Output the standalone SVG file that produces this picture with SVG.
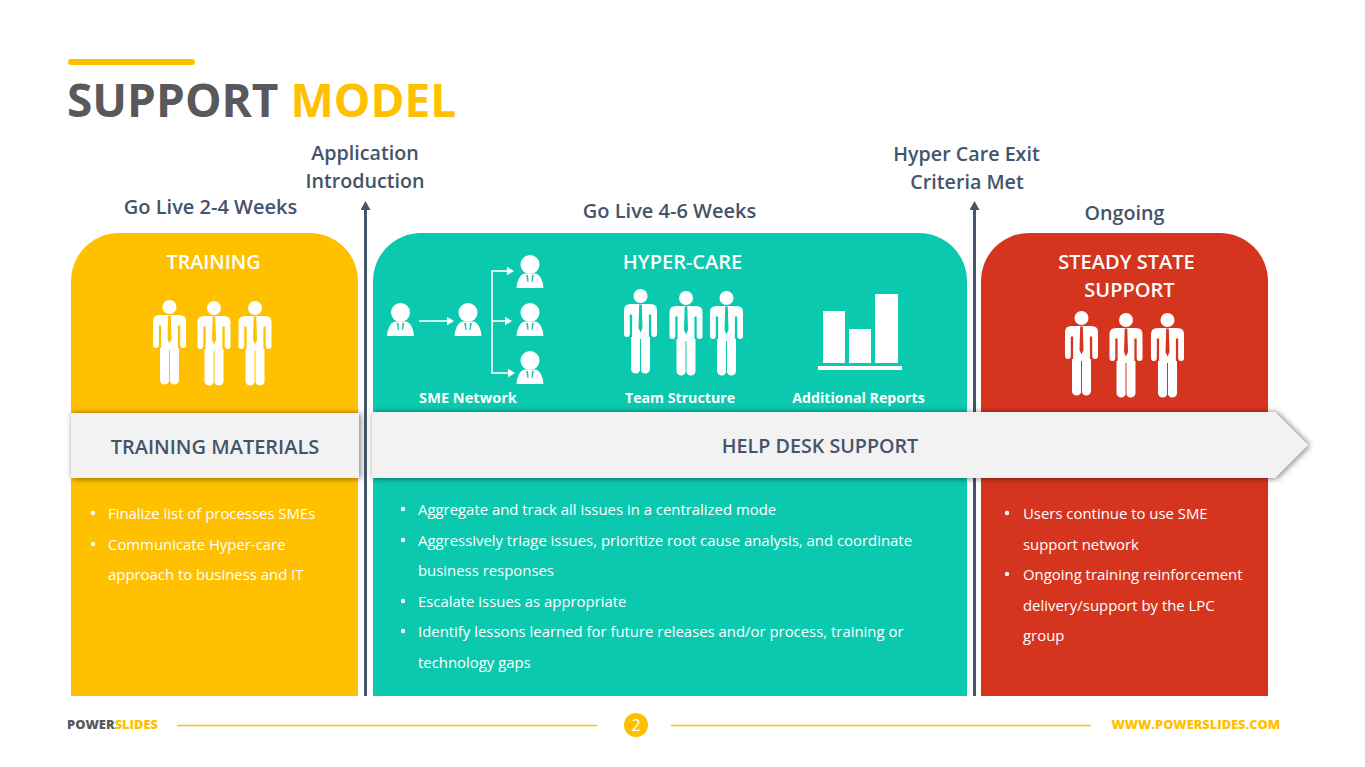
<svg xmlns="http://www.w3.org/2000/svg" width="1365" height="767" viewBox="0 0 1365 767">
<style>
text{font-family:"Open Sans","Liberation Sans",sans-serif}
.h{font-size:19.7px;font-weight:600;fill:#44546a;text-anchor:middle}
.h2{font-size:20px}
.t{font-size:20px;font-weight:600;fill:#fff;text-anchor:middle}
.l{font-size:14.2px;font-weight:700;fill:#fff;text-anchor:middle}
.b{font-size:14.9px;fill:#fff}
.bn{font-size:19.7px;font-weight:600;fill:#44546a;text-anchor:middle}
.v{stroke:#44546a;stroke-width:3;fill:none}
.w{stroke:#fff;stroke-width:1.6;fill:none}
.fy{fill:#ffc000}
.d{fill:#fff}
</style>
<defs>
<filter id="sh" x="-5%" y="-30%" width="110%" height="160%"><feDropShadow dx="1.5" dy="0.5" stdDeviation="3" flood-color="#000" flood-opacity=".55"/></filter>
<marker id="ah" markerWidth="8" markerHeight="10" refX="0.500" refY="4.500" orient="auto" markerUnits="userSpaceOnUse"><path d="M0,0L7.500,4.500L0,9Z" fill="#fff"/></marker>
<marker id="ad" markerWidth="11" markerHeight="11" refX="1" refY="5" orient="auto" markerUnits="userSpaceOnUse"><path d="M0,0L9,5L0,10Z" fill="#44546a"/></marker>
<g id="man" fill="#fff">
<circle cx="0" cy="7" r="7"/>
<path fill-rule="evenodd" d="M-10,15H10Q16.500,15 16.500,21V45A2.900,2.900 0 0 1 10.700,45V25.500H8.400V48H9.500V80.500A4.700,4.700 0 0 1 .5,81.500V50H-.5V81.500A4.700,4.700 0 0 1 -9.500,80.500V48H-8.400V25.500H-10.700V45A2.900,2.900 0 0 1 -16.500,45V21Q-16.500,15 -10,15ZM-1.300,15.500L-2,39L0,43.500L2,39L1.300,15.500Z"/>
</g>
<g id="bust" fill="#fff">
<circle cx="0" cy="9.500" r="9.500"/>
<path fill-rule="evenodd" d="M-6,18.500H6Q12.500,21 13.500,33H-13.500Q-12.500,21 -6,18.500ZM-3.800,20L-2,20L-1.500,27L-2.600,27ZM3.800,20L2,20L1.500,27L2.600,27Z"/>
</g>
</defs>
<rect width="1365" height="767" fill="#fff"/>
<g id="title">
<rect x="68" y="59" width="127" height="6" rx="3" class="fy"/>
<text x="67" y="117" font-size="46" font-weight="700" fill="#595959">SUPPORT <tspan fill="#ffc000">MODEL</tspan></text>
</g>
<g id="headings">
<text class="h h2" x="210.500" y="214">Go Live 2-4 Weeks</text>
<text class="h" x="365" y="160">Application</text>
<text class="h" x="365" y="188">Introduction</text>
<text class="h h2" x="669.500" y="218">Go Live 4-6 Weeks</text>
<text class="h" x="966.500" y="161">Hyper Care Exit</text>
<text class="h" x="967" y="189">Criteria Met</text>
<text class="h" x="1124.500" y="220">Ongoing</text>
</g>
<g id="training">
<path d="M71,696V281A48,48 0 0 1 119,233H310A48,48 0 0 1 358,281V696Z" fill="#ffc000"/>
<text class="t" x="213.500" y="269" style="font-size:19.7px">TRAINING</text>
<use href="#man" x="169.500" y="300"/><use href="#man" x="214" y="301"/><use href="#man" x="255" y="301"/>
<circle class="d" cx="93" cy="513" r="2.200"/><circle class="d" cx="93" cy="544" r="2.200"/>
<text class="b" x="108" y="519">Finalize list of processes SMEs</text>
<text class="b" x="108" y="550">Communicate Hyper-care</text>
<text class="b" x="108" y="580">approach to business and IT</text>
</g>
<g id="hypercare">
<path d="M373,696V281A48,48 0 0 1 421,233H919A48,48 0 0 1 967,281V696Z" fill="#0bc9af"/>
<text class="t" x="682.500" y="269">HYPER-CARE</text>
<use href="#bust" x="400.500" y="303"/><use href="#bust" x="468" y="303"/>
<use href="#bust" x="530" y="255"/><use href="#bust" x="530" y="303"/><use href="#bust" x="530" y="351"/>
<use href="#man" x="640.500" y="289"/><use href="#man" x="686" y="291"/><use href="#man" x="726.500" y="291"/>
<rect x="823" y="311" width="22" height="52" fill="#fff"/><rect x="849" y="329" width="22" height="34" fill="#fff"/><rect x="875" y="294" width="23" height="69" fill="#fff"/><rect x="818" y="366" width="84" height="4" fill="#fff"/>
<text class="l" x="468" y="403" style="font-size:14.6px">SME Network</text>
<text class="l" x="680" y="403">Team Structure</text>
<text class="l" x="858.500" y="403">Additional Reports</text>
<circle class="d" cx="403" cy="509" r="2.200"/><circle class="d" cx="403" cy="540" r="2.200"/><circle class="d" cx="403" cy="601" r="2.200"/><circle class="d" cx="403" cy="631" r="2.200"/>
<text class="b" x="418" y="515">Aggregate and track all issues in a centralized mode</text>
<text class="b" x="418" y="546">Aggressively triage issues, prioritize root cause analysis, and coordinate</text>
<text class="b" x="418" y="576">business responses</text>
<text class="b" x="418" y="607">Escalate issues as appropriate</text>
<text class="b" x="418" y="637">Identify lessons learned for future releases and/or process, training or</text>
<text class="b" x="418" y="668">technology gaps</text>
</g>
<g id="steady">
<path d="M981,696V281A48,48 0 0 1 1029,233H1220A48,48 0 0 1 1268,281V696Z" fill="#d5351e"/>
<text class="t" x="1126.500" y="269">STEADY STATE</text>
<text class="t" x="1129.500" y="297">SUPPORT</text>
<use href="#man" x="1081.500" y="311"/><use href="#man" x="1126" y="313"/><use href="#man" x="1167.500" y="313"/>
<circle class="d" cx="1007" cy="513" r="2.200"/><circle class="d" cx="1007" cy="574" r="2.200"/>
<text class="b" x="1023" y="519">Users continue to use SME</text>
<text class="b" x="1023" y="550">support network</text>
<text class="b" x="1023" y="580">Ongoing training reinforcement</text>
<text class="b" x="1023" y="611">delivery/support by the LPC</text>
<text class="b" x="1023" y="641">group</text>
</g>
<g id="connectors">
<path class="v" d="M365.500,696V209" marker-end="url(#ad)"/>
<path class="v" d="M974.500,696V209" marker-end="url(#ad)"/>
<path class="w" d="M419,321H447" marker-end="url(#ah)"/>
<path class="w" d="M492,271V373H508" marker-end="url(#ah)"/>
<path class="w" d="M491.200,271H507" marker-end="url(#ah)"/>
<path class="w" d="M492,321H505" marker-end="url(#ah)"/>
</g>
<g id="training-materials">
<rect x="71" y="413" width="288" height="65" fill="#f2f2f2" filter="url(#sh)"/>
<text class="bn" x="215" y="454" style="font-size:20px">TRAINING MATERIALS</text>
</g>
<g id="help-desk">
<path d="M372,412H1275L1308,445L1275,478H372Z" fill="#f2f2f2" filter="url(#sh)"/>
<text class="bn" x="820" y="453">HELP DESK SUPPORT</text>
</g>
<g id="footer">
<text x="67" y="729" font-size="12.900" font-weight="800" fill="#595959">POWER<tspan fill="#ffc000">SLIDES</tspan></text>
<rect class="fy" x="177" y="724.750" width="420" height="1.500"/>
<rect class="fy" x="671" y="724.750" width="420" height="1.500"/>
<circle cx="636" cy="725" r="12" fill="#ffc000"/>
<text x="636" y="731" font-size="16" fill="#fff" text-anchor="middle">2</text>
<text x="1280" y="729" font-size="12.800" font-weight="800" fill="#ffc000" text-anchor="end">WWW.POWERSLIDES.COM</text>
</g>
</svg>
